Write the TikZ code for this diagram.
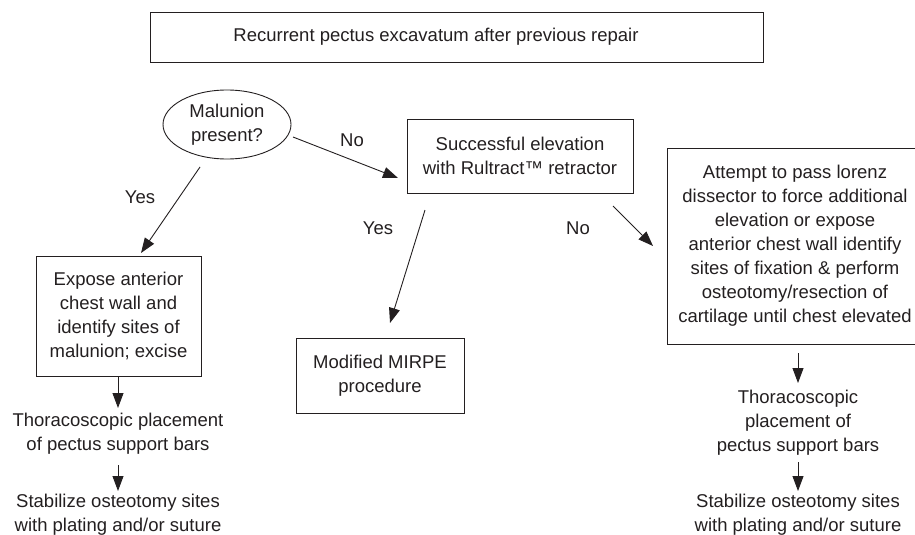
\documentclass[tikz,border=0pt]{standalone}
\usepackage{fontspec}
\setmainfont{Liberation Sans}
\usetikzlibrary{arrows.meta,shapes.geometric}
\definecolor{ink}{HTML}{231F20}
\tikzset{
  every node/.style={font=\fontsize{18.5}{24}\selectfont, text=ink},
  boxnode/.style={draw=ink, line width=0.9pt, align=center, inner sep=0pt},
  txt/.style={align=center, inner sep=0pt},
  arr/.style={draw=ink, line width=0.9pt, -{Triangle[length=15pt,width=11pt]}}
}
\begin{document}
\begin{tikzpicture}[x=1pt,y=-1pt]
\useasboundingbox (0,0) rectangle (915,535);
\clip (0,0) rectangle (915,535);
% boxes
\node[boxnode, minimum width=613pt, minimum height=50pt] (top) at (456.5,37) {};
\node[txt] (toptext) at (436,37) {Recurrent pectus excavatum after previous repair};
\node[boxnode, ellipse, minimum width=128pt, minimum height=69pt] (mal) at (227,124.5) {Malunion\\present?};
\node[boxnode, minimum width=226pt, minimum height=74pt] (succ) at (520,156) {Successful elevation\\with Rultract\texttrademark{} retractor};
\node[boxnode, minimum width=165pt, minimum height=120pt] (expose) at (118.5,316) {Expose anterior\\chest wall and\\identify sites of\\malunion; excise};
\node[boxnode, minimum width=168pt, minimum height=75pt] (mirpe) at (380,375.5) {Modified MIRPE\\procedure};
\node[boxnode, minimum width=256pt, minimum height=196pt] (attempt) at (795,246) {Attempt to pass lorenz\\dissector to force additional\\elevation or expose\\anterior chest wall identify\\sites of fixation \& perform\\osteotomy/resection of\\cartilage until chest elevated};
% plain texts
\node[txt] (thorL) at (118,434) {Thoracoscopic placement\\of pectus support bars};
\node[txt] (stabL) at (118,515) {Stabilize osteotomy sites\\with plating and/or suture};
\node[txt] (thorR) at (798,423) {Thoracoscopic\\placement of\\pectus support bars};
\node[txt] (stabR) at (798,515) {Stabilize osteotomy sites\\with plating and/or suture};
% labels
\node[txt] (yes1) at (140,197) {Yes};
\node[txt] (no1) at (352,140) {No};
\node[txt] (yes2) at (378,228) {Yes};
\node[txt] (no2) at (578,228) {No};
% connector end points
\coordinate (a1s) at (200,167); \coordinate (a1e) at (141,253);
\coordinate (a2s) at (293,137); \coordinate (a2e) at (398,178);
\coordinate (a3s) at (425,210); \coordinate (a3e) at (390,323);
\coordinate (a4s) at (613,206); \coordinate (a4e) at (653,246);
\coordinate (l1s) at (118,377); \coordinate (l1e) at (118,408);
\coordinate (l2s) at (118,465); \coordinate (l2e) at (118,491);
\coordinate (r1s) at (798,353); \coordinate (r1e) at (798,383);
\coordinate (r2s) at (798,462); \coordinate (r2e) at (798,491);
% connectors
\draw[arr] (a1s) -- (a1e);
\draw[arr] (a2s) -- (a2e);
\draw[arr] (a3s) -- (a3e);
\draw[arr] (a4s) -- (a4e);
\draw[arr] (l1s) -- (l1e);
\draw[arr] (l2s) -- (l2e);
\draw[arr] (r1s) -- (r1e);
\draw[arr] (r2s) -- (r2e);
\end{tikzpicture}
\end{document}
